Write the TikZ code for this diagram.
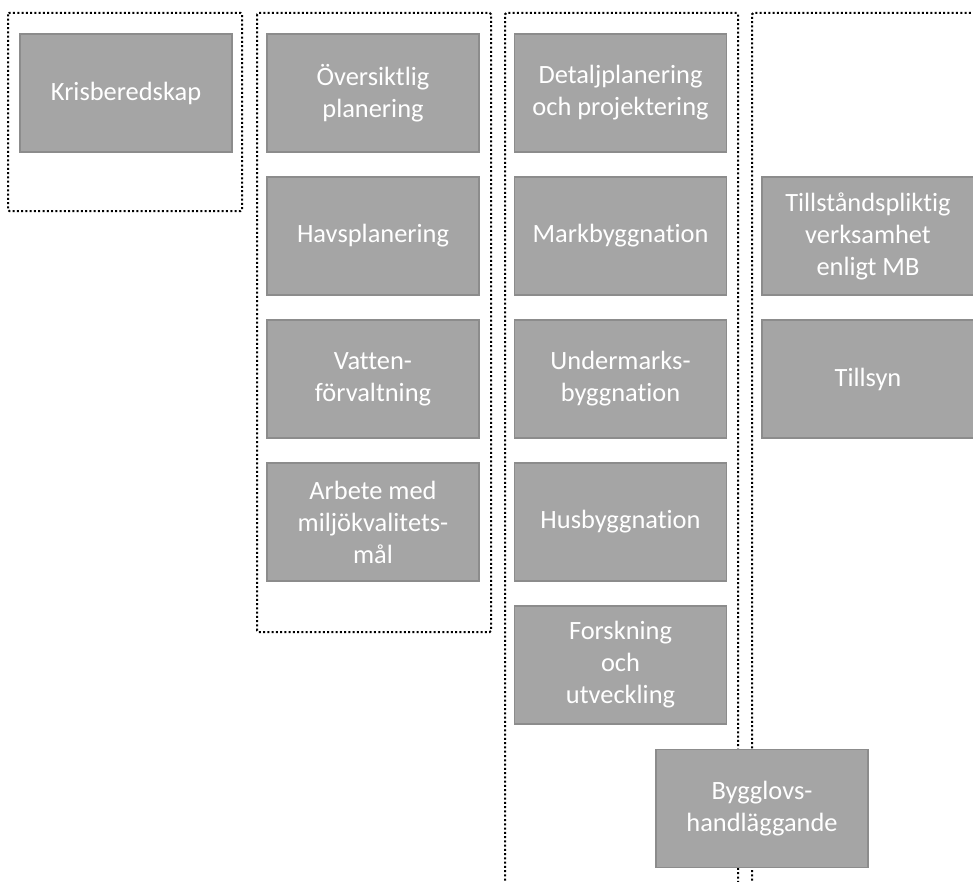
\documentclass[tikz,border=0pt]{standalone}
\usepackage{fontspec}
\setmainfont[Ligatures={NoCommon}]{Carlito}
\definecolor{boxfill}{HTML}{A5A5A5}
\definecolor{boxline}{HTML}{8C8C8C}
\begin{document}
\begin{tikzpicture}[x=0.75pt,y=-0.75pt,
  box/.style={draw=boxline,line width=0.8pt,fill=boxfill,text=white,
    minimum width=159pt,minimum height=88.5pt,inner sep=0pt,align=center,
    font=\fontsize{19.8}{24}\selectfont},
  frame/.style={line width=1.5pt,dash pattern=on 1.5pt off 1.7pt,rounded corners=1pt}]
\useasboundingbox (0,0) rectangle (973,881);
\begin{scope}
\clip (0,0) rectangle (973,881);
% frames
\draw[frame] (8,13) rectangle (242,211);
\draw[frame] (257,13) rectangle (491,632);
\draw[frame] (505,885) -- (505,13) -- (738,13) -- (738,885);
\draw[frame] (752,885) -- (752,13) -- (980,13);
% column 1
\node[box] (kris) at (126,93) {Krisberedskap};
% column 2
\node[box] (oversikt) at (373,93) {Översiktlig\\planering};
\node[box] (havs) at (373,236) {Havsplanering};
\node[box] (vatten) at (373,379) {Vatten-\\förvaltning};
\node[box] (miljo) at (373,522) {Arbete med\\miljökvalitets-\\mål};
% column 3
\node[box] (detalj) at (620.5,93) {Detaljplanering\\och projektering};
\node[box] (mark) at (620.5,236) {Markbyggnation};
\node[box] (under) at (620.5,379) {Undermarks-\\byggnation};
\node[box] (hus) at (620.5,522) {Husbyggnation};
\node[box] (forsk) at (620.5,665) {Forskning\\och\\utveckling};
% column 4
\node[box] (tillst) at (868,236) {Tillståndspliktig\\verksamhet\\enligt MB};
\node[box] (tillsyn) at (868,379) {Tillsyn};
% bottom
\node[box] (bygg) at (762,808.5) {Bygglovs-\\handläggande};
\end{scope}
\end{tikzpicture}
\end{document}
